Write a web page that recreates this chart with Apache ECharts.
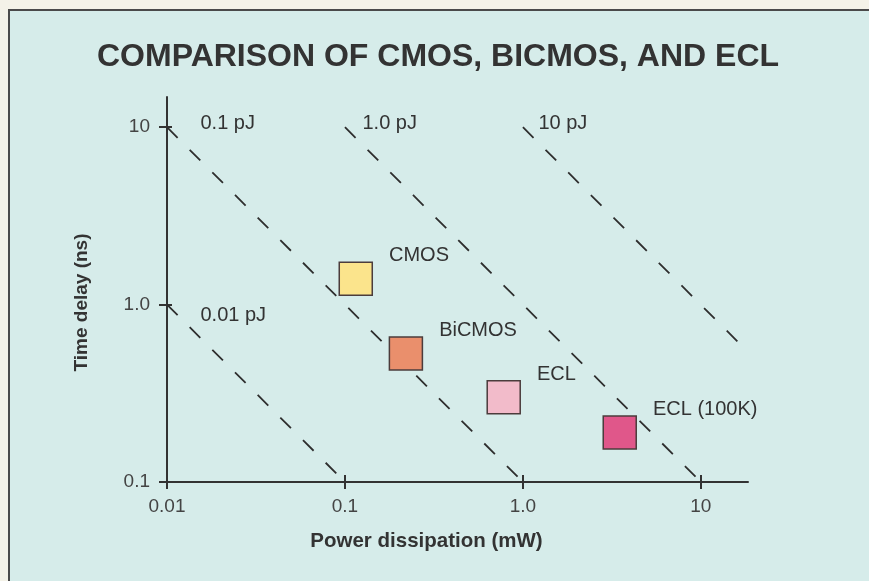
<!DOCTYPE html>
<html>
<head>
<meta charset="utf-8">
<script src="https://cdn.jsdelivr.net/npm/echarts@6/dist/echarts.min.js"></script>
<style>
  html, body { margin: 0; padding: 0; overflow: hidden; background: #f4f2e8; }
  #frame { position: absolute; left: 8px; top: 9px; width: 900px; height: 600px;
           background: #d6ecea; border: 2px solid #4a4a4a; box-sizing: border-box; }
  #chart { position: absolute; left: 0; top: 0; width: 869px; height: 581px; }
</style>
</head>
<body>
<div id="frame"></div>
<div id="chart"></div>
<script>
// Axis ticks and their printed labels
const xTicks = [0.01, 0.1, 1, 10];
const xTickLabels = ['0.01', '0.1', '1.0', '10'];
const yTicks = [0.1, 1, 10];
const yTickLabels = ['0.1', '1.0', '10'];

// Logic families: power (mW) and gate delay (ns)
const families = ['CMOS', 'BiCMOS', 'ECL', 'ECL (100K)'];
const familyPower = [0.115, 0.22, 0.78, 3.5];
const familyDelay = [1.4, 0.53, 0.3, 0.19];

// Constant-energy (power-delay product) guide lines
const energyLabels = ['0.01 pJ', '0.1 pJ', '1.0 pJ', '10 pJ'];
const lineStartPower = [0.01, 0.01, 0.1, 1];
const lineStartDelay = [1, 10, 10, 10];
const lineEndPower = [0.1, 1, 10, 16.6];
const lineEndDelay = [0.1, 0.1, 0.1, 0.6];

// Styling
const FONT = "'Liberation Sans', Arial, Helvetica, sans-serif";
const INK = '#333333';
const familyColors = ['#fbe48c', '#ea8f6c', '#f2bbca', '#e0578a'];
const energyLabelOffsets = [[33, 11], [33, -4], [17, -4], [15, -4]];

function tickLabel(ticks, labels) {
  return function (v) {
    for (let i = 0; i < ticks.length; i++) {
      if (Math.abs(Math.log10(ticks[i]) - Math.log10(v)) < 1e-6) return labels[i];
    }
    return '';
  };
}

const X_MIN = 0.01, X_MAX = 18.4, Y_MIN = 0.1, Y_MAX = 14.8;
const axisLineStyle = { color: INK, width: 2 };

const xAxes = [
  {
    type: 'log', logBase: 10, min: X_MIN, max: X_MAX, position: 'bottom',
    name: 'Power dissipation (mW)', nameLocation: 'middle', nameGap: 49,
    nameTextStyle: { fontFamily: FONT, fontWeight: 'bold', fontSize: 20.5, color: INK, padding: [0, 62, 0, 0] },
    axisLine: { show: true, onZero: false, lineStyle: axisLineStyle },
    axisTick: { show: true, length: 7, customValues: xTicks, lineStyle: axisLineStyle },
    axisLabel: { customValues: xTicks, formatter: tickLabel(xTicks, xTickLabels),
                 fontFamily: FONT, fontSize: 19, color: '#444', margin: 15 },
    splitLine: { show: false }, minorTick: { show: false }
  },
  {
    // inner half of the crossing tick marks
    type: 'log', logBase: 10, min: X_MIN, max: X_MAX, position: 'bottom',
    axisLine: { show: false, onZero: false },
    axisTick: { show: true, inside: true, length: 7, customValues: xTicks, lineStyle: axisLineStyle },
    axisLabel: { show: false }, splitLine: { show: false }
  }
];

const yAxes = [
  {
    type: 'log', logBase: 10, min: Y_MIN, max: Y_MAX, position: 'left',
    name: 'Time delay (ns)', nameLocation: 'middle', nameGap: 76, nameRotate: 90,
    nameTextStyle: { fontFamily: FONT, fontWeight: 'bold', fontSize: 19, color: INK, padding: [0, 26, 0, 0] },
    axisLine: { show: true, onZero: false, lineStyle: axisLineStyle },
    axisTick: { show: true, length: 8, customValues: yTicks, lineStyle: axisLineStyle },
    axisLabel: { customValues: yTicks, formatter: tickLabel(yTicks, yTickLabels),
                 fontFamily: FONT, fontSize: 19, color: '#444', margin: 17 },
    splitLine: { show: false }, minorTick: { show: false }
  },
  {
    type: 'log', logBase: 10, min: Y_MIN, max: Y_MAX, position: 'left',
    axisLine: { show: false, onZero: false },
    axisTick: { show: true, inside: true, length: 5, customValues: yTicks, lineStyle: axisLineStyle },
    axisLabel: { show: false }, splitLine: { show: false }
  }
];

const energySeries = energyLabels.map(function (name, i) {
  return {
    type: 'line', name: name, xAxisIndex: 0, yAxisIndex: 0,
    showSymbol: true, symbol: 'circle', symbolSize: 1, silent: true,
    itemStyle: { color: 'rgba(0,0,0,0)' },
    lineStyle: { color: '#2e2e2e', width: 1.8, type: [15, 17] },
    label: { show: false },
    data: [
      {
        value: [lineStartPower[i], lineStartDelay[i]],
        label: {
          show: true, position: 'right', distance: 0, offset: energyLabelOffsets[i],
          formatter: function () { return energyLabels[i]; },
          fontFamily: FONT, fontSize: 20, color: INK, align: 'left', verticalAlign: 'middle'
        }
      },
      [lineEndPower[i], lineEndDelay[i]]
    ],
    z: 2
  };
});

const familySeries = {
  type: 'scatter', name: 'families', xAxisIndex: 0, yAxisIndex: 0,
  symbol: 'rect', symbolSize: 33, silent: true,
  data: families.map(function (f, i) {
    return {
      name: f, value: [familyPower[i], familyDelay[i]],
      itemStyle: { color: familyColors[i] }
    };
  }),
  itemStyle: { borderColor: '#4b3c3c', borderWidth: 1.5, opacity: 1 },
  label: {
    show: true, position: 'right', distance: 5, offset: [11, -23],
    formatter: function (p) { return p.name; },
    fontFamily: FONT, fontSize: 20, color: INK
  },
  z: 5
};

const chart = echarts.init(document.getElementById('chart'), null, { renderer: 'canvas' });
chart.setOption({
  backgroundColor: 'transparent',
  animation: false,
  title: {
    text: 'COMPARISON OF CMOS, BICMOS, AND ECL',
    left: 97, top: 41, padding: 0,
    textStyle: { fontFamily: FONT, fontWeight: 'bold', fontSize: 32, color: INK }
  },
  grid: { left: 167, right: 121, top: 97, bottom: 99, containLabel: false, outerBoundsMode: 'none' },
  xAxis: xAxes,
  yAxis: yAxes,
  series: energySeries.concat([familySeries])
});
</script>
</body>
</html>
